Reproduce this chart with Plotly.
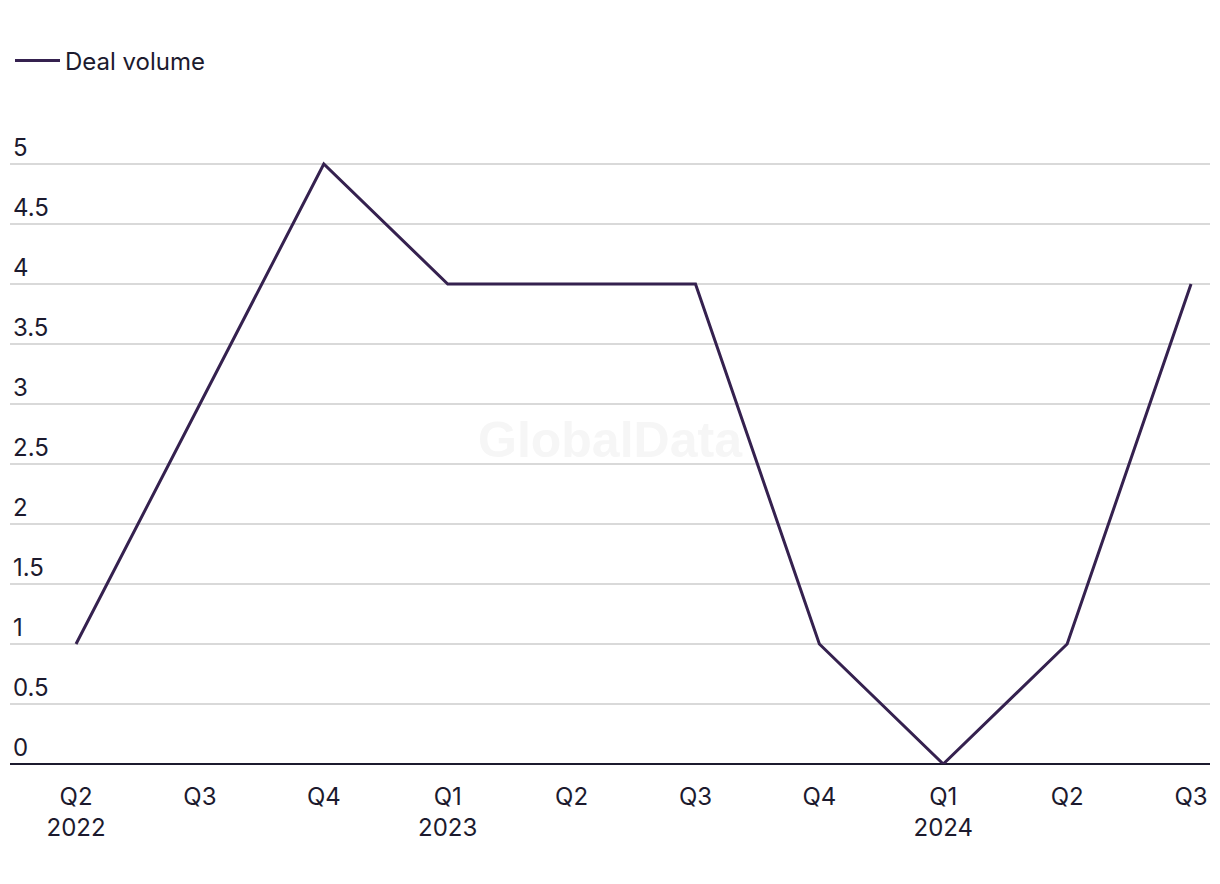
import plotly.graph_objects as go

quarters = ["Q2<br>2022", "Q3", "Q4", "Q1<br>2023", "Q2", "Q3", "Q4", "Q1<br>2024", "Q2", "Q3"]
deal_volume = [1, 3, 5, 4, 4, 4, 1, 0, 1, 4]
y_ticks = [0, 0.5, 1, 1.5, 2, 2.5, 3, 3.5, 4, 4.5, 5]
y_tick_labels = ["0", "0.5", "1", "1.5", "2", "2.5", "3", "3.5", "4", "4.5", "5"]

x_pos = list(range(len(quarters)))
text_color = "#1c1a2e"

fig = go.Figure()
fig.add_trace(go.Scatter(
    x=x_pos, y=deal_volume, mode="lines", name="Deal volume",
    line=dict(color="#35214f", width=3),
))

# faint watermark in the middle of the plot
fig.add_annotation(
    text="<b>GlobalData</b>", x=0.5, y=0.51, xref="paper", yref="paper",
    showarrow=False, font=dict(size=50, color="#f6f6f6", family="Liberation Sans"),
)

# page body has an 8px margin, so the figure is a bit smaller than the window
fig.update_layout(
    width=1212, height=876,
    margin=dict(l=2, r=10, t=120, b=120),
    paper_bgcolor="white", plot_bgcolor="white",
    font=dict(family="Inter", size=24, color=text_color),
    showlegend=True,
    legend=dict(orientation="h", x=0, xanchor="left",
                y=1.141, yanchor="top", itemwidth=45,
                font=dict(size=24, color=text_color)),
    xaxis=dict(
        tickvals=x_pos, ticktext=quarters, range=[-0.533, 9.153],
        showgrid=False, zeroline=False, showline=False, automargin=False,
        ticks="", ticklabelstandoff=16, tickfont=dict(color=text_color),
    ),
    yaxis=dict(
        tickvals=y_ticks, ticktext=y_tick_labels, range=[0, 5.3],
        showgrid=True, gridcolor="#d9d9d9", gridwidth=1.5,
        zeroline=True, zerolinecolor=text_color, zerolinewidth=2,
        ticklabelposition="inside top", ticks="", showline=False, automargin=False,
        tickfont=dict(color=text_color),
    ),
)

fig.write_html("out.html")
